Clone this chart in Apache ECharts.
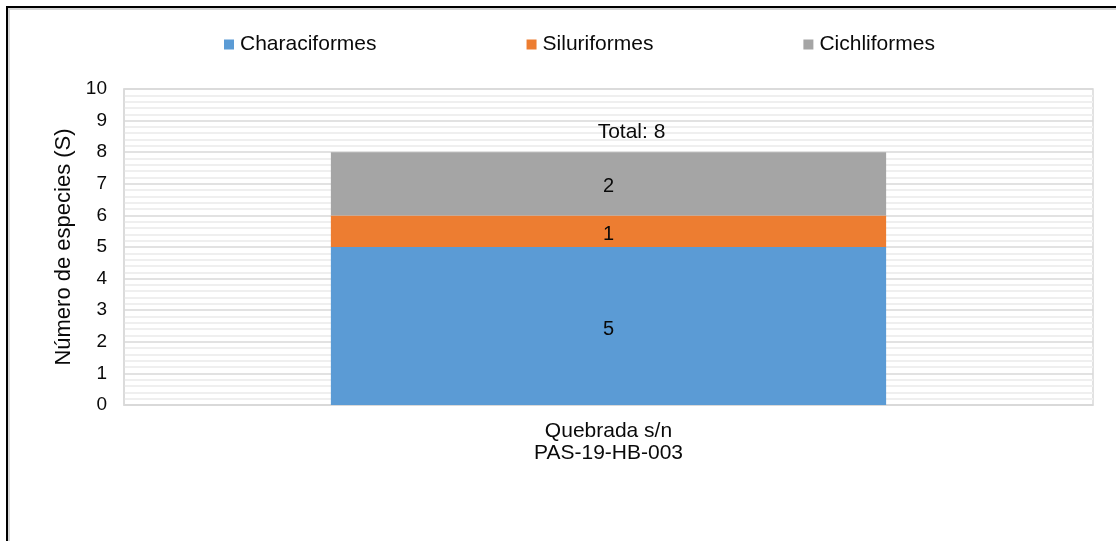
<!DOCTYPE html>
<html>
<head>
<meta charset="utf-8">
<script src="https://cdn.jsdelivr.net/npm/echarts@6/dist/echarts.min.js"></script>
<style>
  html, body { margin: 0; padding: 0; background: #fff; }
  #chart { width: 1116px; height: 541px; }
</style>
</head>
<body>
<div id="chart"></div>
<script>
// Fish species richness per order at the sampling station
const categories = ['Quebrada s/n\nPAS-19-HB-003'];
const seriesNames = ['Characiformes', 'Siluriformes', 'Cichliformes'];
const characiformes = [5];
const siluriformes = [1];
const cichliformes = [2];
const seriesColors = ['#5B9BD5', '#ED7D31', '#A5A5A5'];
const yTicks = { min: 0, max: 10, interval: 1 };

const totals = categories.map((_, i) => characiformes[i] + siluriformes[i] + cichliformes[i]);

const FONT = '"Liberation Sans", Arial, sans-serif';
const INK = '#0a0a0a';

const chart = echarts.init(document.getElementById('chart'), null, { renderer: 'canvas' });

const valueLabel = {
  show: true,
  position: 'inside',
  offset: [0, 3],
  color: INK,
  fontFamily: FONT,
  fontSize: 20
};

function barSeries(name, data, color) {
  return {
    name: name,
    type: 'bar',
    stack: 'total',
    data: data,
    barWidth: '57.3%',
    itemStyle: { color: color },
    label: valueLabel
  };
}

chart.setOption({
  animation: false,
  textStyle: { fontFamily: FONT },
  legend: {
    data: seriesNames,
    left: 219,
    top: 29,
    itemWidth: 10,
    itemHeight: 10,
    itemGap: 150,
    icon: 'rect',
    textStyle: { fontFamily: FONT, fontSize: 21, color: INK, padding: [0, 0, 0, 1] }
  },
  grid: {
    left: 124,
    right: 23,
    top: 89,
    bottom: 136,
    show: true,
    borderColor: '#d9d9d9',
    borderWidth: 1.5,
    backgroundColor: '#fff'
  },
  xAxis: {
    type: 'category',
    data: categories,
    axisLine: { show: true, lineStyle: { color: '#d9d9d9', width: 1.5 } },
    axisTick: { show: false },
    axisLabel: {
      color: INK,
      fontFamily: FONT,
      fontSize: 21,
      lineHeight: 22,
      margin: 15
    }
  },
  yAxis: {
    type: 'value',
    min: yTicks.min,
    max: yTicks.max,
    interval: yTicks.interval,
    name: 'Número de especies (S)',
    nameLocation: 'middle',
    nameGap: 46,
    nameTextStyle: { color: INK, fontFamily: FONT, fontSize: 22 },
    axisLine: { show: true, lineStyle: { color: '#d9d9d9', width: 1.5 } },
    axisTick: { show: false },
    axisLabel: { color: INK, fontFamily: FONT, fontSize: 19, margin: 17 },
    splitLine: { show: true, lineStyle: { color: '#d9d9d9', width: 1.5 } },
    minorTick: { show: false, splitNumber: 5 },
    minorSplitLine: { show: true, lineStyle: { color: '#efefef', width: 2 } }
  },
  series: [
    barSeries(seriesNames[0], characiformes, seriesColors[0]),
    barSeries(seriesNames[1], siluriformes, seriesColors[1]),
    barSeries(seriesNames[2], cichliformes, seriesColors[2]),
    {
      name: 'Total',
      type: 'scatter',
      data: totals,
      symbolSize: 0,
      silent: true,
      itemStyle: { opacity: 1 },
      label: {
        show: true,
        position: 'top',
        distance: 9,
        offset: [23, 0],
        color: INK,
        opacity: 1,
        fontFamily: FONT,
        fontSize: 21,
        formatter: p => 'Total: ' + p.value
      },
      z: 5
    }
  ],
  graphic: [
    // outer frame: top and left edges with a soft shadow
    { type: 'line', shape: { x1: 7, y1: 9, x2: 1116, y2: 9 }, style: { stroke: '#d6d6d6', lineWidth: 2 }, silent: true },
    { type: 'line', shape: { x1: 9, y1: 7, x2: 9, y2: 541 }, style: { stroke: '#d6d6d6', lineWidth: 2 }, silent: true },
    { type: 'line', shape: { x1: 6, y1: 7, x2: 1116, y2: 7 }, style: { stroke: '#000', lineWidth: 2 }, silent: true },
    { type: 'line', shape: { x1: 7, y1: 6, x2: 7, y2: 541 }, style: { stroke: '#000', lineWidth: 2 }, silent: true }
  ]
});
</script>
</body>
</html>
